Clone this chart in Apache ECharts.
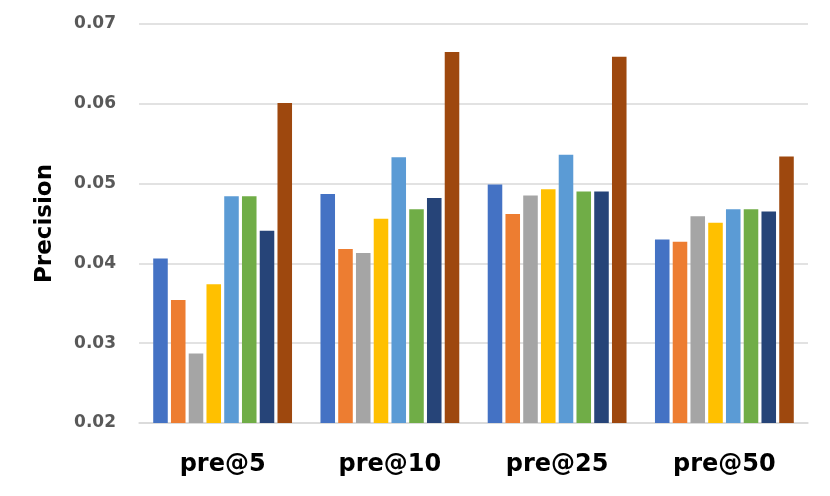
<!DOCTYPE html>
<html>
<head>
<meta charset="utf-8">
<script src="https://cdn.jsdelivr.net/npm/echarts@6/dist/echarts.min.js"></script>
<style>html,body{margin:0;padding:0;background:#fff}#c{width:830px;height:496px}</style>
</head>
<body>
<div id="c"></div>
<script>
var categories = ['pre@5', 'pre@10', 'pre@25', 'pre@50'];
var s1 = [0.0406, 0.0487, 0.0499, 0.0430];
var s2 = [0.0354, 0.0418, 0.0462, 0.0427];
var s3 = [0.0287, 0.0413, 0.0485, 0.0459];
var s4 = [0.0374, 0.0456, 0.0493, 0.0451];
var s5 = [0.0484, 0.0533, 0.0536, 0.0468];
var s6 = [0.0484, 0.0468, 0.0490, 0.0468];
var s7 = [0.0441, 0.0482, 0.0490, 0.0465];
var s8 = [0.0601, 0.0665, 0.0659, 0.0534];
var seriesNames = ['S1', 'S2', 'S3', 'S4', 'S5', 'S6', 'S7', 'S8'];
var colors = ['#4472C4', '#ED7D31', '#A5A5A5', '#FFC000', '#5B9BD5', '#70AD47', '#264478', '#9E480E'];
var allData = [s1, s2, s3, s4, s5, s6, s7, s8];

var chart = echarts.init(document.getElementById('c'));
chart.setOption({
  animation: false,
  color: colors,
  grid: { left: 139, right: 22, top: 24, bottom: 73 },
  xAxis: {
    type: 'category',
    data: categories,
    axisTick: { show: false },
    axisLine: { lineStyle: { color: '#d9d9d9', width: 1.5 } },
    axisLabel: { color: '#000', fontSize: 24, fontWeight: 'bold', fontFamily: 'DejaVu Sans', margin: 30 }
  },
  yAxis: {
    type: 'value',
    min: 0.02, max: 0.07, interval: 0.01,
    name: 'Precision',
    nameLocation: 'middle',
    nameGap: 82,
    nameTextStyle: { color: '#000', fontSize: 23, fontWeight: 'bold', fontFamily: 'DejaVu Sans' },
    axisLine: { show: false },
    axisTick: { show: false },
    axisLabel: { color: '#595959', fontSize: 17, fontWeight: 'bold', fontFamily: 'DejaVu Sans', margin: 23,
      formatter: function (v) { return v.toFixed(2); } },
    splitLine: { lineStyle: { color: '#d9d9d9', width: 1.5 } }
  },
  series: allData.map(function (d, i) {
    return {
      name: seriesNames[i],
      type: 'bar',
      data: d,
      barGap: '22%',
      barCategoryGap: '17%'
    };
  })
});
</script>
</body>
</html>
